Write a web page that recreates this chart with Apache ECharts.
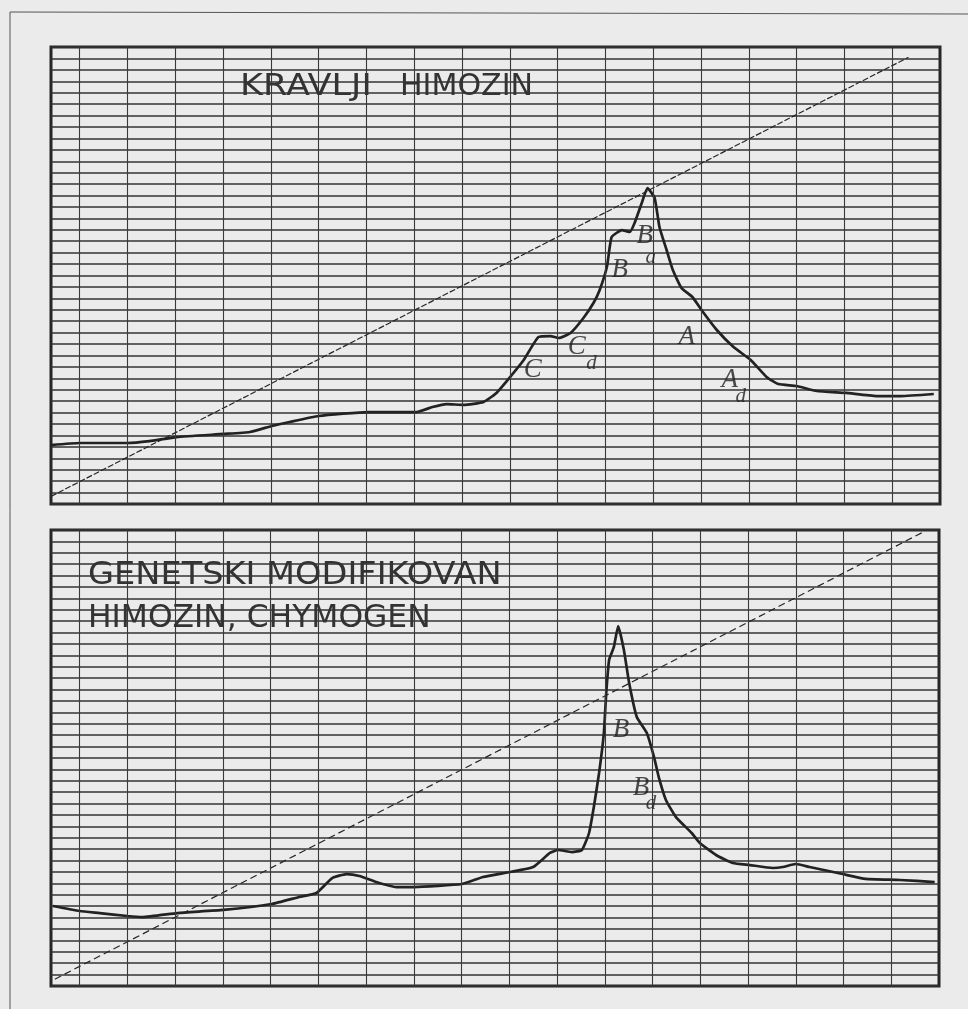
<!DOCTYPE html>
<html>
<head>
<meta charset="utf-8">
<script src="https://cdn.jsdelivr.net/npm/echarts@6/dist/echarts.min.js"></script>
<style>
  html, body { margin: 0; padding: 0; background: #ebebeb; }
  #chart { width: 968px; height: 1009px; }
</style>
</head>
<body>
<div id="chart"></div>
<script>
// Chart-paper columns (x units) where the vertical rulings fall
const columnTicks = [0, 1, 2, 3, 4, 5, 6, 7, 8, 9, 10, 11, 12, 13, 14, 15, 16, 17];

// Top chromatogram: calf (cow) chymosin, [time, absorbance]
const cowCurve = [
  [-0.6, 5.16], [0, 5.34], [1.0, 5.34], [1.46, 5.51], [2.03, 5.86], [3.01, 6.13],
  [3.56, 6.30], [4.02, 6.83], [4.39, 7.18], [5.0, 7.70], [6.03, 8.05], [7.05, 8.05],
  [7.38, 8.49], [7.68, 8.75], [8.03, 8.67], [8.45, 8.93], [8.72, 9.72], [9.04, 11.29],
  [9.29, 12.60], [9.60, 14.62], [9.85, 14.70], [10.02, 14.53], [10.27, 14.97], [10.54, 16.28],
  [10.75, 17.59], [10.88, 18.73], [11.03, 20.74], [11.09, 22.49], [11.13, 23.37], [11.23, 23.72],
  [11.34, 23.98], [11.51, 23.81], [11.61, 24.60], [11.76, 26.35], [11.88, 27.66], [12.03, 26.78],
  [12.13, 24.25], [12.28, 22.23], [12.41, 20.48], [12.59, 18.91], [12.82, 18.12], [13.01, 16.98],
  [13.33, 15.23], [13.68, 13.74], [14.04, 12.60], [14.37, 11.12], [14.62, 10.50], [15.0, 10.33],
  [15.42, 9.89], [16.03, 9.72], [16.67, 9.45], [17.18, 9.45], [17.87, 9.63]
];
// Salt gradient line of the top run
const cowGradient = [[-0.6, 0.67], [17.34, 39.1]];

// Bottom chromatogram: recombinant chymosin (Chymogen)
const genCurve = [
  [-0.56, 7.02], [0, 6.58], [0.42, 6.40], [1.0, 6.14], [1.32, 6.05], [2.05, 6.40],
  [3.01, 6.67], [4.02, 7.19], [4.60, 7.81], [4.96, 8.16], [5.29, 9.47], [5.59, 9.82],
  [5.86, 9.65], [6.21, 9.12], [6.63, 8.68], [7.01, 8.68], [8.01, 8.95], [8.45, 9.56],
  [9.02, 10.0], [9.50, 10.44], [9.85, 11.67], [10.02, 11.93], [10.31, 11.75], [10.52, 11.93],
  [10.67, 13.42], [10.77, 15.70], [10.88, 18.68], [10.98, 22.19], [11.03, 25.70], [11.09, 28.60],
  [11.19, 29.74], [11.28, 31.58], [11.40, 29.47], [11.51, 26.58], [11.67, 23.60], [11.88, 22.19],
  [12.03, 20.09], [12.13, 18.33], [12.28, 16.32], [12.49, 14.82], [12.82, 13.42], [12.99, 12.54],
  [13.33, 11.49], [13.68, 10.79], [14.04, 10.61], [14.52, 10.35], [14.73, 10.44], [15.0, 10.70],
  [15.29, 10.44], [15.98, 9.82], [16.46, 9.39], [17.18, 9.30], [17.91, 9.12]
];
// Salt gradient line of the bottom run
const genGradient = [[-0.52, 0.6], [17.66, 39.8]];

// Peak annotations: [letter, x, y, isSubscript]
const cowPeakNames = [
  ['B', 11.82, 23.46, false], ['a', 11.95, 21.62, true],
  ['B', 11.30, 20.48, false],
  ['C', 9.48, 11.73, false],
  ['C', 10.40, 13.74, false], ['d', 10.71, 12.34, true],
  ['A', 12.70, 14.62, false],
  ['A', 13.60, 10.85, false], ['d', 13.83, 9.37, true]
];
const genPeakNames = [
  ['B', 11.34, 22.46, false],
  ['B', 11.76, 17.37, false], ['d', 11.97, 16.05, true]
];

// Panel headings
const cowTitleWords = ['KRAVLJI', 'HIMOZIN'];
const genTitleLines = ['GENETSKI MODIFIKOVAN', 'HIMOZIN, CHYMOGEN'];

const INK = '#222';
const RULE = '#333';

function panelAxes(gi) {
  return {
    x: {
      gridIndex: gi, type: 'value', min: -0.6, max: 18,
      axisLine: { show: false }, axisTick: { show: false },
      axisLabel: { show: false }, splitLine: { show: false }
    },
    y: {
      gridIndex: gi, type: 'value', min: 0, max: 40, interval: 1,
      axisLine: { show: false }, axisTick: { show: false },
      axisLabel: { show: false },
      splitLine: { show: true, lineStyle: { color: RULE, width: 1.5 } }
    }
  };
}

function gradientSeries(gi, data, dash) {
  return {
    type: 'line', xAxisIndex: gi, yAxisIndex: gi, data: data,
    symbol: 'none', silent: true, z: 3,
    lineStyle: { color: '#262626', width: 1.2, type: dash },
    markLine: {
      silent: true, symbol: ['none', 'none'], animation: false,
      label: { show: false },
      lineStyle: { color: '#3a3a3a', width: 1.1, type: 'solid' },
      data: columnTicks.map(v => ({ xAxis: v }))
    }
  };
}

function curveSeries(gi, data) {
  return {
    type: 'line', xAxisIndex: gi, yAxisIndex: gi, data: data,
    symbol: 'none', silent: true, z: 4, smooth: 0.15,
    lineStyle: { color: INK, width: 2.7 }
  };
}

function nameSeries(gi, names) {
  return {
    type: 'scatter', xAxisIndex: gi, yAxisIndex: gi, symbolSize: 0, silent: true, z: 5,
    data: names.map(n => ({
      value: [n[1], n[2]], name: n[0],
      label: { fontSize: n[3] ? 21 : 27 }
    })),
    label: {
      show: true, position: 'inside', formatter: p => p.name,
      fontFamily: 'Liberation Serif', fontStyle: 'italic', color: '#1f1f1f'
    }
  };
}

function heading(text, x, y, size, stretch) {
  return {
    type: 'text', z: 10, x: x, y: y, scaleX: stretch,
    style: { text: text, x: 0, y: 0, font: size + 'px "DejaVu Sans"', fill: '#333', textVerticalAlign: 'middle' }
  };
}

const a0 = panelAxes(0), a1 = panelAxes(1);

const option = {
  backgroundColor: '#ebebeb',
  animation: false,
  grid: [
    { left: 51, top: 47, width: 889, height: 457, show: true, borderColor: '#262626', borderWidth: 3, backgroundColor: 'transparent' },
    { left: 51, top: 530, width: 888, height: 456, show: true, borderColor: '#262626', borderWidth: 3, backgroundColor: 'transparent' }
  ],
  xAxis: [a0.x, a1.x],
  yAxis: [a0.y, a1.y],
  series: [
    gradientSeries(0, cowGradient, [6, 2]),
    curveSeries(0, cowCurve),
    nameSeries(0, cowPeakNames),
    gradientSeries(1, genGradient, [7, 4]),
    curveSeries(1, genCurve),
    nameSeries(1, genPeakNames)
  ],
  graphic: [
    { type: 'polyline', silent: true, z: 1,
      shape: { points: [[10, 1009], [10, 12], [968, 14]] },
      style: { stroke: '#555', lineWidth: 1, fill: null } },
    heading(cowTitleWords[0], 240, 87, 31, 1.13),
    heading(cowTitleWords[1], 400, 87, 31, 0.97),
    heading(genTitleLines[0], 88, 576, 32, 1.05),
    heading(genTitleLines[1], 88, 619, 32, 0.98)
  ]
};

const chart = echarts.init(document.getElementById('chart'), null, { renderer: 'canvas' });
chart.setOption(option);
</script>
</body>
</html>
